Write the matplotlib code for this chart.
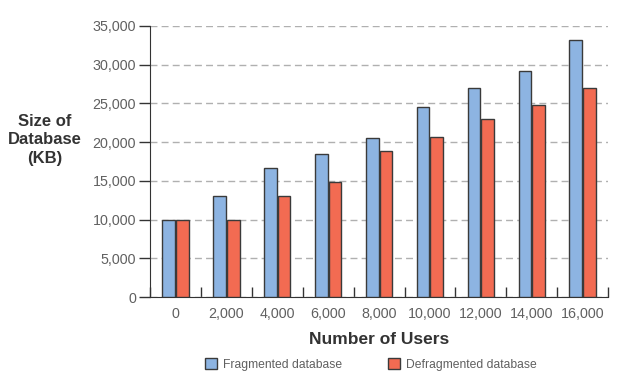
import numpy as np
import matplotlib
matplotlib.use("Agg")
import matplotlib.pyplot as plt
from matplotlib.ticker import FuncFormatter, MultipleLocator

plt.rcParams['font.family'] = ['Liberation Sans', 'DejaVu Sans']

users = ["0", "2,000", "4,000", "6,000", "8,000", "10,000", "12,000", "14,000", "16,000"]
fragmented = [10000, 13000, 16700, 18500, 20500, 24500, 27000, 29200, 33200]
defragmented = [10000, 10000, 13000, 14800, 18800, 20700, 23000, 24800, 27000]

blue = "#8DB4E2"
red = "#F26B52"
edge = "#3a3a3a"

fig = plt.figure(figsize=(6.18, 3.88), dpi=100)
ax = fig.add_axes([0.2427, 0.2345, 0.7413, 0.6985])

x = np.arange(len(users))
w = 0.25
ax.bar(x - w / 2 - 0.01, fragmented, w, color=blue, edgecolor=edge, linewidth=1, zorder=3,
       label="Fragmented database")
ax.bar(x + w / 2 + 0.01, defragmented, w, color=red, edgecolor=edge, linewidth=1, zorder=3,
       label="Defragmented database")

ax.set_xlim(-0.5, len(users) - 0.5)
ax.set_ylim(0, 35000)
ax.yaxis.set_major_locator(MultipleLocator(5000))
ax.yaxis.set_major_formatter(FuncFormatter(lambda v, p: f"{int(v):,}"))
ax.grid(axis="y", color="#b0b0b0", linestyle=(0, (5, 3)), linewidth=1, zorder=0)

ax.set_xticks(x)
ax.set_xticklabels(users)
ax.set_xticks(np.arange(-0.5, len(users)), minor=True)
ax.tick_params(axis="x", which="major", length=0, pad=7, labelsize=10.3, labelcolor="#606060")
ax.tick_params(axis="x", which="minor", direction="in", length=7, width=1, color="#333333")
ax.tick_params(axis="y", length=8, width=1, color="#333333", pad=2, labelsize=10.3,
               labelcolor="#606060")

for s in ["top", "right"]:
    ax.spines[s].set_visible(False)
ax.spines["left"].set_color("#333333")
ax.spines["bottom"].set_color("#333333")

ax.set_xlabel("Number of Users", fontsize=12.5, fontweight="bold", color="#333333", labelpad=8)
fig.text(0.073, 0.64, "Size of\nDatabase\n(KB)", ha="center", va="center", fontsize=12,
         fontweight="bold", color="#333333", linespacing=1.3)

fig.legend(loc="center", bbox_to_anchor=(0.6, 0.06), ncol=2, frameon=False, fontsize=8.7,
           handlelength=1.0, handleheight=1.0, columnspacing=3.8, handletextpad=0.5,
           labelcolor="#606060")

fig.savefig("out.png", dpi=100)
